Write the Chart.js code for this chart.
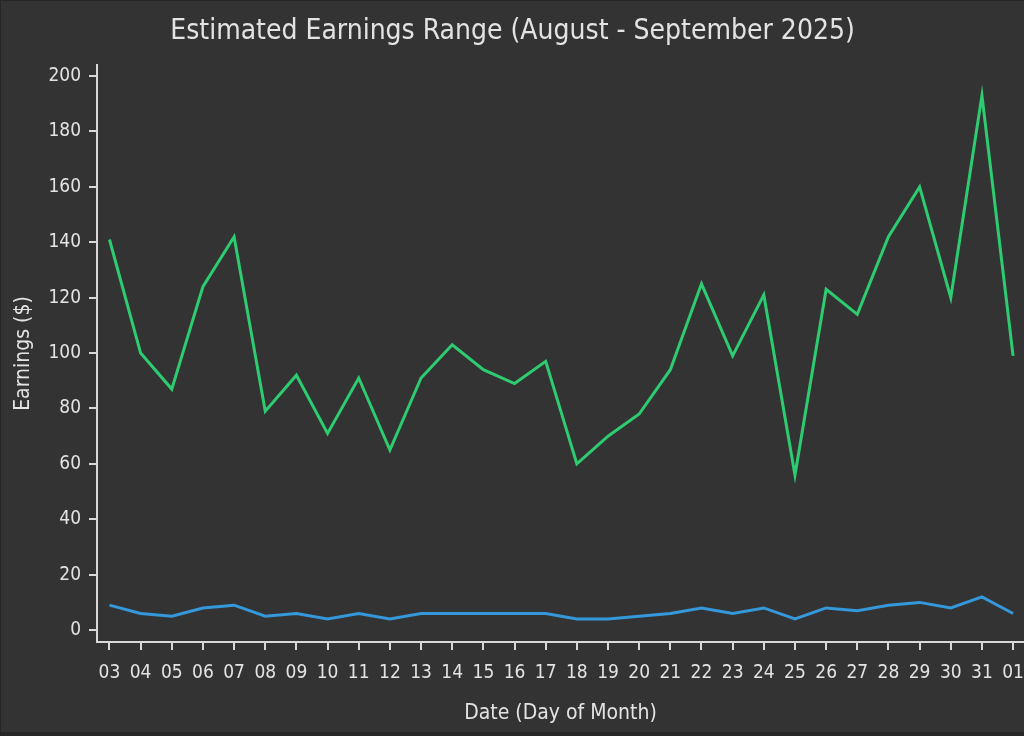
<!DOCTYPE html>
<html>
<head>
<meta charset="utf-8">
<script src="https://cdn.jsdelivr.net/npm/chart.js@4.4.1/dist/chart.umd.min.js"></script>
<style>
  html, body { margin: 0; padding: 0; background: #262626; width: 1024px; height: 736px; overflow: hidden; }
  #wrap { position: absolute; left: 1px; top: 1px; width: 1023px; height: 731px; background: #333333; }
  canvas { display: block; }
</style>
</head>
<body>
<div id="wrap"><canvas id="c" width="1023" height="731"></canvas></div>
<script>
const days = ["03","04","05","06","07","08","09","10","11","12","13","14","15","16","17","18","19","20","21","22","23","24","25","26","27","28","29","30","31","01"];
const highEarnings = [141,100,87,124,142,79,92,71,91,65,91,103,94,89,97,60,70,78,94,125,99,121,56,123,114,142,160,120,193,99];
const lowEarnings = [9,6,5,8,9,5,6,4,6,4,6,6,6,6,6,4,4,5,6,8,6,8,4,8,7,9,10,8,12,6];
const yTickValues = [0,20,40,60,80,100,120,140,160,180,200];

const FONT = "'DejaVu Sans Condensed', 'DejaVu Sans', sans-serif";
const TEXT = '#e3e3e3';
const AXIS = '#d9d9d9';

const toPoints = arr => arr.map((v, i) => ({ x: i, y: v }));

new Chart(document.getElementById('c'), {
  type: 'line',
  data: {
    datasets: [
      { label: 'High', data: toPoints(highEarnings), borderColor: '#2ecc71', borderWidth: 3, pointRadius: 0, tension: 0, fill: false },
      { label: 'Low', data: toPoints(lowEarnings), borderColor: '#3498db', borderWidth: 3, pointRadius: 0, tension: 0, fill: false }
    ]
  },
  options: {
    responsive: false,
    animation: false,
    devicePixelRatio: 1,
    layout: { padding: 0 },
    plugins: {
      legend: { display: false },
      tooltip: { enabled: false },
      title: {
        display: true,
        text: 'Estimated Earnings Range (August - September 2025)',
        color: TEXT,
        font: { family: FONT, size: 28, weight: 'normal' },
        padding: { top: 14, bottom: 16.4 }
      }
    },
    scales: {
      x: {
        type: 'linear',
        min: -0.4,
        max: 29.35,
        afterBuildTicks: axis => { axis.ticks = days.map((_, i) => ({ value: i })); },
        afterFit: s => { s.height = 90; s.paddingLeft = 0; s.paddingRight = 0; },
        ticks: {
          color: TEXT,
          font: { family: FONT, size: 19 },
          padding: 12,
          maxRotation: 0,
          autoSkip: false,
          callback: v => days[v]
        },
        grid: { display: true, drawOnChartArea: false, drawTicks: true, tickLength: 8, color: AXIS, lineWidth: 2 },
        border: { display: true, color: AXIS, width: 2 },
        title: {
          display: true,
          text: 'Date (Day of Month)',
          color: TEXT,
          font: { family: FONT, size: 21 },
          padding: { top: 0, bottom: 5.4 }
        }
      },
      y: {
        type: 'linear',
        min: -4.3,
        max: 204,
        afterBuildTicks: axis => { axis.ticks = yTickValues.map(v => ({ value: v })); },
        afterFit: s => { s.width = 96; s.paddingTop = 0; s.paddingBottom = 0; },
        ticks: {
          color: TEXT,
          font: { family: FONT, size: 19 },
          padding: 8
        },
        grid: { display: true, drawOnChartArea: false, drawTicks: true, tickLength: 8, color: AXIS, lineWidth: 2 },
        border: { display: true, color: AXIS, width: 2 },
        title: {
          display: true,
          text: 'Earnings ($)',
          color: TEXT,
          font: { family: FONT, size: 21 },
          padding: { top: 10, bottom: 0 }
        }
      }
    }
  }
});
</script>
</body>
</html>
